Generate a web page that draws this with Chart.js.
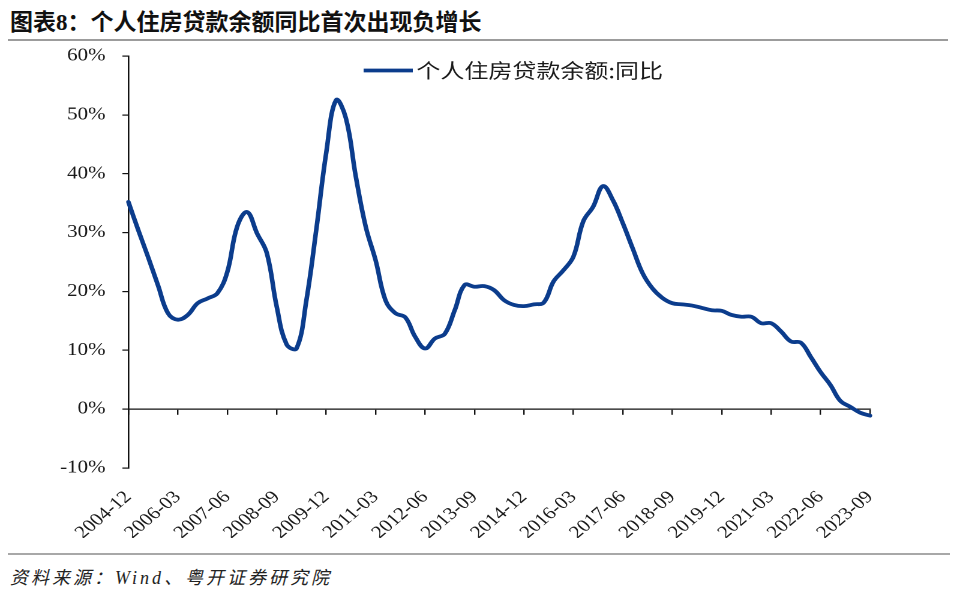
<!DOCTYPE html>
<html>
<head>
<meta charset="utf-8">
<script src="https://cdn.jsdelivr.net/npm/chart.js@4"></script>
<style>
html,body{margin:0;padding:0;background:#fff;}
body{width:960px;height:596px;position:relative;overflow:hidden;}
#title{position:absolute;left:10px;top:10px;font:bold 23px "Liberation Serif","Noto Sans CJK SC";line-height:26px;color:#111;white-space:nowrap;}
#rule1{position:absolute;left:8px;top:39px;width:940px;height:2px;background:#9c9c9c;}
#rule2{position:absolute;left:8px;top:553px;width:942px;height:2px;background:#a8a8a8;}
#source{position:absolute;left:10px;top:568px;font:italic 18px "Liberation Serif","Noto Sans CJK SC";line-height:20px;letter-spacing:3px;color:#222;white-space:nowrap;}
#wrap{position:absolute;left:0;top:44px;width:800px;height:506px;transform:scaleX(1.2);transform-origin:0 0;}
#c{width:800px;height:506px;display:block;}
</style>
</head>
<body>
<div id="title">图表8：个人住房贷款余额同比首次出现负增长</div>
<div id="rule1"></div>
<div id="wrap"><canvas id="c" width="800" height="506"></canvas></div>
<div id="rule2"></div>
<div id="source">资料来源：Wind、粤开证券研究院</div>
<script>
const categories = [
 '2004-12',
 '2005-03','2005-06','2005-09','2005-12',
 '2006-03','2006-06','2006-09','2006-12',
 '2007-03','2007-06','2007-09','2007-12',
 '2008-03','2008-06','2008-09','2008-12',
 '2009-03','2009-06','2009-09','2009-12',
 '2010-03','2010-06','2010-09','2010-12',
 '2011-03','2011-06','2011-09','2011-12',
 '2012-03','2012-06','2012-09','2012-12',
 '2013-03','2013-06','2013-09','2013-12',
 '2014-03','2014-06','2014-09','2014-12',
 '2015-03','2015-06','2015-09','2015-12',
 '2016-03','2016-06','2016-09','2016-12',
 '2017-03','2017-06','2017-09','2017-12',
 '2018-03','2018-06','2018-09','2018-12',
 '2019-03','2019-06','2019-09','2019-12',
 '2020-03','2020-06','2020-09','2020-12',
 '2021-03','2021-06','2021-09','2021-12',
 '2022-03','2022-06','2022-09','2022-12',
 '2023-03','2023-06','2023-09'
];
const yoyValues = [
 35.2, 30.4, 25.8, 21.0, 16.3, 15.2, 16.0, 18.0, 18.8, 19.7,
 23.3, 31.0, 33.5, 29.9, 26.5, 17.4, 11.0, 10.3, 18.5, 30.5,
 43.5, 52.5, 49.4, 39.5, 31.0, 25.3, 18.5, 16.3, 15.6, 12.3,
 10.3, 12.0, 12.8, 16.8, 21.1, 20.8, 20.9, 20.2, 18.5, 17.7,
 17.5, 17.8, 18.1, 21.7, 23.6, 25.9, 31.9, 34.4, 37.9, 35.5,
 31.6, 27.3, 23.1, 20.5, 18.9, 18.0, 17.8, 17.6, 17.2, 16.8,
 16.7, 16.0, 15.7, 15.7, 14.6, 14.6, 13.2, 11.5, 11.3, 8.9,
 6.3, 4.1, 1.4, 0.4, -0.6, -1.1
];
const seriesName = '个人住房贷款余额:同比';
const yMin = -10, yMax = 60, yStep = 10;
const labelEvery = 5;

const LINE_COLOR = '#0b3c8c';
const TEXT_COLOR = '#1a1a1a';
const AXIS_COLOR = '#111';

const insideLegend = {
  id: 'insideLegend',
  afterDraw(chart, args, opts) {
    const {ctx, chartArea} = chart;
    const ds = chart.data.datasets[0];
    const x0 = chartArea.left + opts.dx;
    const y = chartArea.top + opts.dy;
    ctx.save();
    ctx.strokeStyle = ds.borderColor;
    ctx.lineWidth = ds.borderWidth;
    ctx.lineCap = 'butt';
    ctx.beginPath();
    ctx.moveTo(x0, y);
    ctx.lineTo(x0 + opts.lineLength, y);
    ctx.stroke();
    ctx.font = opts.font;
    ctx.fillStyle = opts.color;
    ctx.textBaseline = 'middle';
    ctx.textAlign = 'left';
    ctx.fillText(ds.label, x0 + opts.lineLength + opts.gap, y);
    ctx.restore();
  }
};

const tickFont = {family: 'Liberation Serif', size: 17.5};

new Chart(document.getElementById('c'), {
  type: 'line',
  data: {
    labels: categories,
    datasets: [{
      label: seriesName,
      data: yoyValues,
      borderColor: LINE_COLOR,
      backgroundColor: LINE_COLOR,
      borderWidth: 3.8,
      pointRadius: 0,
      tension: 0.4,
      fill: false,
      borderJoinStyle: 'round',
      borderCapStyle: 'round',
      xAxisID: 'x',
      yAxisID: 'y'
    }]
  },
  options: {
    responsive: false,
    animation: false,
    devicePixelRatio: 2,
    layout: {padding: {top: 12, right: 75, bottom: 12, left: 0}},
    plugins: {
      legend: {display: false},
      tooltip: {enabled: false},
      title: {display: false},
      insideLegend: {dx: 196, dy: 14.5, lineLength: 41, gap: 3, font: '20px "Noto Sans CJK SC"', color: TEXT_COLOR}
    },
    scales: {
      x: {
        type: 'category',
        position: 'bottom',
        offset: false,
        grid: {display: false, drawTicks: false},
        border: {display: false},
        ticks: {
          autoSkip: false, minRotation: 45, maxRotation: 45, padding: 19,
          font: tickFont, color: TEXT_COLOR,
          callback(v, i) { return i % labelEvery === 0 ? this.getLabelForValue(v) : ''; }
        },
        afterFit(s) { s.height = 70; }
      },
      x0: {
        type: 'category',
        axis: 'x',
        position: {y: 0},
        offset: false,
        grid: {
          drawOnChartArea: false, drawTicks: true, tickLength: 5, lineWidth: 1.2,
          color: (c) => (c.index % labelEvery === 0 ? AXIS_COLOR : 'rgba(0,0,0,0)')
        },
        border: {display: true, color: AXIS_COLOR, width: 1.3},
        ticks: {display: false, autoSkip: false}
      },
      y: {
        min: yMin, max: yMax,
        ticks: {stepSize: yStep, padding: 14, font: tickFont, color: TEXT_COLOR, callback: (v) => v + '%'},
        grid: {drawOnChartArea: false, drawTicks: true, tickLength: 5, color: AXIS_COLOR, lineWidth: 1.2},
        border: {display: true, color: AXIS_COLOR, width: 1.3},
        afterFit(s) { s.width = 107; s.paddingTop = 8; s.paddingBottom = 8; }
      }
    }
  },
  plugins: [insideLegend]
});
</script>
</body>
</html>
